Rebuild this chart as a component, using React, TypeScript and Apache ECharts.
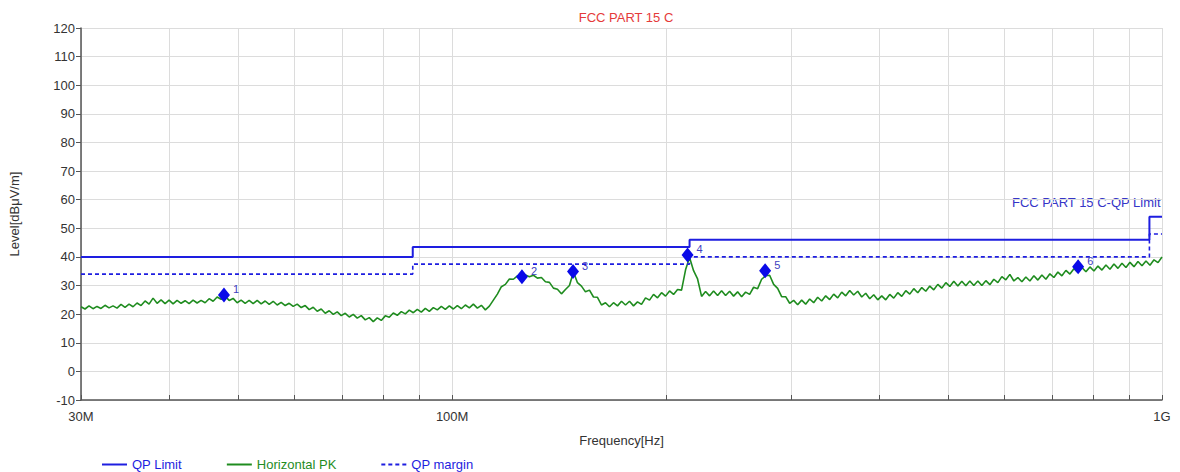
import React, { useEffect, useRef } from "react";
import * as echarts from "echarts";

// ---- data ----
const titleText = "FCC PART 15 C";
const limitLabelText = "FCC PART 15 C-QP Limit";

const limitFreqsMHz = [30, 88, 88, 216, 216, 960, 960, 1000];
const limitLevels = [40, 40, 43.5, 43.5, 46, 46, 54, 54];
const marginLevels = [34, 34, 37.5, 37.5, 40, 40, 48, 48];

const traceStartMHz = 30;
const traceStopMHz = 1000;
const traceLevels = [
  22.6, 21.8, 22.9, 21.9, 22.7, 22.0, 23.1, 22.2, 22.9, 22.1,
  23.4, 22.4, 23.5, 22.6, 23.9, 23.0, 24.6, 23.5, 25.6, 23.8,
  25.0, 23.7, 24.9, 23.6, 24.8, 23.8, 24.7, 23.7, 24.9, 23.9,
  24.8, 24.0, 25.4, 24.5, 26.0, 25.2, 26.3, 24.8, 25.5, 24.0,
  24.9, 23.8, 24.8, 23.7, 24.8, 23.6, 24.6, 23.4, 24.5, 23.2,
  24.1, 23.0, 23.8, 22.7, 23.5, 22.3, 23.0, 21.6, 22.4, 21.0,
  21.8, 20.3, 21.2, 19.9, 20.8, 19.5, 20.3, 19.0, 19.9, 18.6,
  19.5, 18.0, 18.8, 17.4, 18.7, 17.8, 19.4, 18.9, 20.4, 19.6,
  20.9, 20.1, 21.4, 20.5, 21.7, 20.7, 22.0, 21.0, 22.3, 21.5,
  22.7, 21.7, 22.9, 21.8, 23.0, 21.9, 23.2, 22.2, 23.5, 22.1,
  23.1, 21.5, 22.8, 24.9, 27.0, 29.6, 30.4, 32.3, 32.2, 33.4,
  32.8, 33.7, 33.1, 33.6, 32.6, 32.8, 31.3, 31.1, 29.1, 28.7,
  27.1, 28.6, 30.0, 34.7, 31.0, 29.8, 27.8, 28.4, 26.0, 25.9,
  23.2, 24.0, 22.6, 24.0, 22.9, 24.5, 23.2, 24.5, 22.9, 24.3,
  23.4, 25.7, 24.9, 26.9, 25.7, 27.5, 26.3, 28.1, 26.9, 28.6,
  28.4, 35.5, 39.8, 35.2, 32.3, 26.2, 27.9, 26.4, 28.1, 26.5,
  28.2, 26.5, 28.0, 26.3, 27.8, 26.1, 27.7, 26.9, 29.4, 28.9,
  32.2, 33.4, 33.6, 30.4, 29.0, 26.1, 26.1, 23.8, 24.8, 23.3,
  24.9, 23.5, 25.3, 24.0, 25.9, 24.6, 26.4, 25.1, 27.0, 25.7,
  27.7, 26.4, 28.3, 26.7, 28.0, 26.0, 27.3, 25.4, 26.8, 25.0,
  26.4, 25.0, 26.9, 25.6, 27.5, 26.2, 28.2, 27.0, 28.9, 27.5,
  29.3, 28.0, 29.8, 28.5, 30.4, 29.1, 31.0, 29.7, 31.5, 29.8,
  31.5, 29.9, 31.6, 30.0, 31.6, 30.0, 31.7, 30.3, 32.2, 31.0,
  33.1, 32.0, 33.9, 31.6, 32.8, 31.3, 33.0, 31.6, 33.4, 31.9,
  33.7, 32.2, 34.1, 32.8, 34.7, 33.4, 35.3, 34.0, 35.9, 34.6,
  36.3, 34.8, 36.5, 35.1, 36.8, 35.4, 37.2, 35.7, 37.5, 36.0,
  37.8, 36.3, 38.1, 36.6, 38.4, 36.9, 38.6, 37.1, 39.0, 38.0,
  40.0,
];

const markerFreqsMHz = [47.7, 125.4, 148, 214.6, 276, 761.8];
const markerLevels = [26.7, 33.1, 34.9, 40.7, 35.2, 36.6];
const markerLabels = ["1", "2", "3", "4", "5", "6"];

const gridFreqsMHz = [30, 40, 50, 60, 70, 80, 90, 100, 200, 300, 400, 500, 600, 700, 800, 900, 1000];
const labelFreqsMHz = [30, 100, 1000];
const labelTexts = ["30M", "100M", "1G"];

const yMin = -10;
const yMax = 120;
const yStep = 10;

// ---- styles ----
const BLUE = "#1e1ee0";
const GREEN = "#1f8c1f";
const FONT = "Liberation Sans, Arial, sans-serif";

export default function App() {
  const ref = useRef<HTMLDivElement>(null);

  useEffect(() => {
    if (!ref.current) return;
    const chart = echarts.init(ref.current, undefined, { renderer: "svg" });
    const lg = (f: number) => Math.log10(f);
    const n = traceLevels.length;
    const l0 = lg(traceStartMHz);
    const l1 = lg(traceStopMHz);
    const traceData = traceLevels.map((v, i) => [l0 + ((l1 - l0) * i) / (n - 1), v]);
    const limitData = limitFreqsMHz.map((f, i) => [lg(f), limitLevels[i]]);
    const marginData = limitFreqsMHz.map((f, i) => [lg(f), marginLevels[i]]);
    const markerData = markerFreqsMHz.map((f, i) => ({
      value: [lg(f), markerLevels[i]],
      label: { formatter: markerLabels[i] },
    }));

    chart.setOption({
      animation: false,
      textStyle: { fontFamily: FONT },
      title: {
        text: titleText,
        left: 621,
        textAlign: "center",
        top: 6,
        textStyle: { color: "#e53a3a", fontSize: 13, fontWeight: "normal", fontFamily: FONT },
      },
      grid: { left: 80, right: 18, top: 28, bottom: 72 },
      legend: {
        left: 96,
        top: 453,
        itemWidth: 25,
        itemHeight: 14,
        itemGap: 44,
        itemStyle: { opacity: 0, borderWidth: 0 },
        textStyle: { fontSize: 13, fontFamily: FONT },
        data: [
          { name: "QP Limit", textStyle: { color: BLUE } },
          { name: "Horizontal PK", textStyle: { color: GREEN } },
          { name: "QP margin", textStyle: { color: BLUE } },
        ],
      },
      xAxis: {
        type: "value",
        min: lg(30),
        max: lg(1000),
        name: "Frequency[Hz]",
        nameLocation: "middle",
        nameGap: 34,
        nameTextStyle: { color: "#333", fontSize: 13, fontFamily: FONT },
        axisLine: { show: true, onZero: false, lineStyle: { color: "#555", width: 1.5 } },
        axisTick: {
          show: true,
          inside: true,
          length: 5,
          customValues: gridFreqsMHz.map(lg),
          lineStyle: { color: "#555" },
        },
        axisLabel: {
          customValues: labelFreqsMHz.map(lg),
          margin: 10,
          color: "#333",
          fontSize: 13,
          fontFamily: FONT,
          formatter: (v: number) => {
            for (let i = 0; i < labelFreqsMHz.length; i++) {
              if (Math.abs(lg(labelFreqsMHz[i]) - v) < 1e-6) return labelTexts[i];
            }
            return "";
          },
        },
        splitLine: { show: true, lineStyle: { color: "#dcdcdc", width: 1 } },
      },
      yAxis: {
        type: "value",
        min: yMin,
        max: yMax,
        interval: yStep,
        name: "Level[dBμV/m]",
        nameLocation: "middle",
        nameGap: 60,
        nameTextStyle: { color: "#333", fontSize: 13, fontFamily: FONT },
        axisLine: { show: true, onZero: false, lineStyle: { color: "#555", width: 1.5 } },
        axisTick: { show: true, length: 5, lineStyle: { color: "#555" } },
        axisLabel: { color: "#333", fontSize: 13, margin: 6, fontFamily: FONT },
        splitLine: { show: true, lineStyle: { color: "#dcdcdc", width: 1 } },
      },
      graphic: [
        {
          type: "text",
          right: 19,
          top: 196,
          style: { text: limitLabelText, fill: "#3535c8", font: `13px ${FONT}` },
        },
      ],
      series: [
        {
          name: "QP Limit",
          type: "line",
          data: limitData,
          symbol: "none",
          lineStyle: { color: BLUE, width: 2 },
          itemStyle: { color: BLUE },
          z: 3,
        },
        {
          name: "Horizontal PK",
          type: "line",
          data: traceData,
          symbol: "none",
          lineStyle: { color: GREEN, width: 1.6 },
          itemStyle: { color: GREEN },
          z: 2,
        },
        {
          name: "QP margin",
          type: "line",
          data: marginData,
          symbol: "none",
          lineStyle: { color: BLUE, width: 1.6, type: [4, 3] },
          itemStyle: { color: BLUE },
          z: 3,
        },
        {
          name: "markers",
          type: "scatter",
          data: markerData,
          symbol: "diamond",
          symbolSize: [12, 15],
          itemStyle: { color: "#0a0ae8", opacity: 1 },
          label: {
            show: true,
            position: "right",
            offset: [-2, -6],
            fontSize: 11,
            color: "#4040c0",
            fontFamily: FONT,
          },
          z: 5,
        },
      ],
    });
    return () => chart.dispose();
  }, []);

  return (
    <div
      ref={ref}
      style={{ position: "fixed", left: 0, top: 0, width: 1180, height: 472, background: "#fff" }}
    />
  );
}
